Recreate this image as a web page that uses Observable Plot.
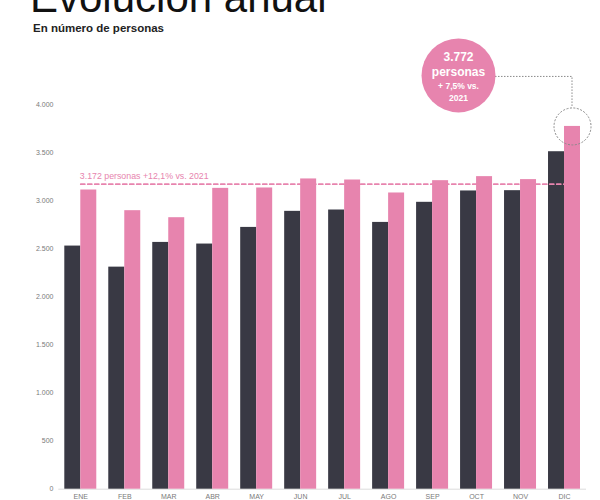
<!DOCTYPE html>
<html>
<head>
<meta charset="utf-8">
<script src="https://cdn.jsdelivr.net/npm/d3@7"></script>
<script src="https://cdn.jsdelivr.net/npm/@observablehq/plot@0.6"></script>
<style>
  html, body { margin: 0; padding: 0; background: #fff; overflow: hidden; }
  body { width: 600px; height: 500px; position: relative; font-family: "Liberation Sans", Arial, sans-serif; }
  #title { position: absolute; left: 30px; top: -23.5px; font-size: 42px; line-height: 1; color: #111; white-space: nowrap; z-index: 2; }
  #subtitle { position: absolute; left: 33px; top: 23.3px; font-size: 11.5px; line-height: 1; font-weight: bold; color: #222; white-space: nowrap; z-index: 2; }
  #chart { position: absolute; left: 0; top: 30px; }
</style>
</head>
<body>
<div id="title">Evolución anual</div>
<div id="subtitle">En número de personas</div>
<div id="chart"></div>
<script>
const months = ["ENE","FEB","MAR","ABR","MAY","JUN","JUL","AGO","SEP","OCT","NOV","DIC"];
const values2021 = [2528, 2309, 2566, 2549, 2722, 2889, 2903, 2774, 2983, 3101, 3104, 3509];
const values2022 = [3111, 2896, 2823, 3128, 3132, 3226, 3215, 3080, 3208, 3250, 3219, 3772];
const yTicks = [0, 500, 1000, 1500, 2000, 2500, 3000, 3500, 4000];
const average2022 = 3172;
const averageLabel = "3.172 personas +12,1% vs. 2021";
const calloutLines = ["3.772", "personas", "+ 7,5% vs.", "2021"];

const dark = "#393944";
const pink = "#e784ae";

const data = months.map((m, i) => ({month: m, v2021: values2021[i], v2022: values2022[i]}));
const last = data[data.length - 1];
const avgLine = [{x: months[0], y: average2022}, {x: months[months.length - 1], y: average2022}];
const avgLabelRow = [{x: months[0], y: average2022, label: averageLabel}];

const fmt = d => d3.format(",")(d).replace(/,/g, ".");

// callout offsets relative to the December band centre / pink bar top
const cdx = -106, cdy = -51, cr = 37, smallR = 18.5, pinkOff = 8;

const connector = (index, scales) => {
  const sx = scales.x, sy = scales.y;
  const bw = typeof sx.bandwidth === "function" ? sx.bandwidth() : (sx.bandwidth || 0);
  const xc = sx(last.month) + bw / 2;
  const x0 = xc + pinkOff;
  const y0 = sy(last.v2022);
  const cx = xc + cdx, cy = y0 + cdy;
  const g = d3.create("svg:g");
  g.append("path")
    .attr("d", `M${cx + cr},${cy + 1.5}H${x0}V${y0 - smallR}`)
    .attr("fill", "none")
    .attr("stroke", "#8a8a8a")
    .attr("stroke-width", 1)
    .attr("stroke-dasharray", "1.5,1.5");
  return g.node();
};

const chart = Plot.plot({
  width: 600,
  height: 470,
  marginLeft: 58.3,
  marginRight: 14,
  marginTop: 74,
  marginBottom: 11.3,
  style: {fontFamily: "Liberation Sans, Arial, sans-serif", fontSize: "7px", color: "#7a7a7a", background: "transparent", overflow: "visible"},
  x: {domain: months, paddingInner: 0.2727, paddingOuter: 0.1364, round: false, label: null, tickSize: 0, tickPadding: 5},
  y: {domain: [0, 4000], ticks: yTicks, tickFormat: fmt, tickSize: 0, tickPadding: 5.3, label: null},
  marks: [
    Plot.ruleY([0], {stroke: "#dcdcdc", strokeWidth: 1}),
    Plot.barY(data, {x: "month", y: "v2021", fill: dark, insetRight: 16}),
    Plot.barY(data, {x: "month", y: "v2022", fill: pink, insetLeft: 16}),
    Plot.lineY(avgLine, {x: "x", y: "y", stroke: pink, strokeWidth: 1.8, strokeDasharray: "4,3"}),
    Plot.text(avgLabelRow, {x: "x", y: "y", text: "label", textAnchor: "start", dx: -1, dy: -8, fill: pink, fontSize: 8.8}),
    connector,
    Plot.dot([last], {x: "month", y: "v2022", r: smallR, dx: pinkOff, fill: "none", stroke: "#8a8a8a", strokeWidth: 1, strokeDasharray: "2,1.5"}),
    Plot.dot([last], {x: "month", y: "v2022", r: cr, dx: cdx, dy: cdy, fill: pink, stroke: "none"}),
    Plot.text([last], {x: "month", y: "v2022", text: () => calloutLines[0], dx: cdx, dy: cdy - 18, fill: "#fff", fontSize: 12, fontWeight: "bold"}),
    Plot.text([last], {x: "month", y: "v2022", text: () => calloutLines[1], dx: cdx, dy: cdy - 3.5, fill: "#fff", fontSize: 12, fontWeight: "bold"}),
    Plot.text([last], {x: "month", y: "v2022", text: () => calloutLines[2], dx: cdx, dy: cdy + 11, fill: "#fff", fontSize: 8.5, fontWeight: "bold"}),
    Plot.text([last], {x: "month", y: "v2022", text: () => calloutLines[3], dx: cdx, dy: cdy + 23, fill: "#fff", fontSize: 8.5, fontWeight: "bold"})
  ]
});
document.getElementById("chart").appendChild(chart);
</script>
</body>
</html>
